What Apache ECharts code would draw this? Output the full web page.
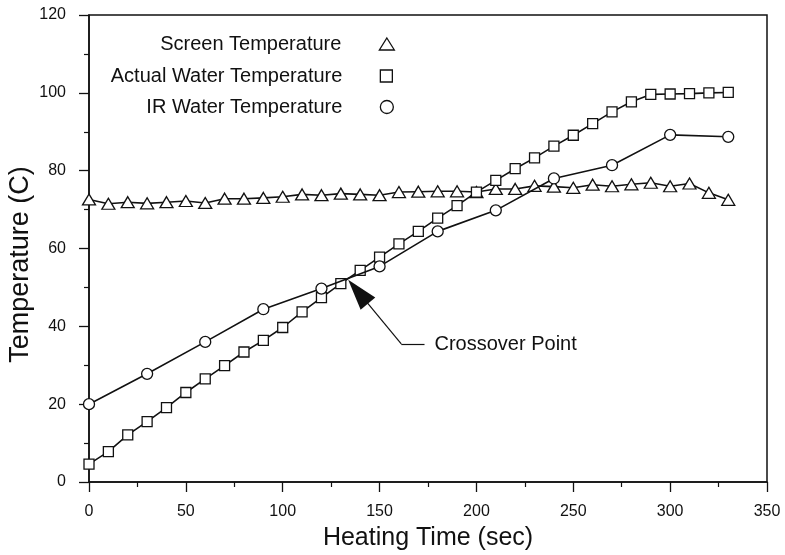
<!DOCTYPE html>
<html>
<head>
<meta charset="utf-8">
<script src="https://cdn.jsdelivr.net/npm/echarts@6/dist/echarts.min.js"></script>
<style>
  html, body { margin: 0; padding: 0; background: #fff; }
  #chart { width: 785px; height: 555px; }
</style>
</head>
<body>
<div id="chart"></div>
<script>
// Heating time (sec) sample points
const timeFine = [0, 10, 20, 30, 40, 50, 60, 70, 80, 90, 100, 110, 120, 130, 140, 150, 160,
  170, 180, 190, 200, 210, 220, 230, 240, 250, 260, 270, 280, 290, 300, 310, 320, 330];
const timeCoarse = [0, 30, 60, 90, 120, 150, 180, 210, 240, 270, 300, 330];

// Temperatures (C)
const screenTemp = [72.6, 71.5, 71.9, 71.6, 71.9, 72.2, 71.7, 72.8, 72.8, 73.0, 73.3, 73.9, 73.7,
  74.1, 73.9, 73.7, 74.5, 74.6, 74.7, 74.7, 74.5, 75.3, 75.3, 76.1, 75.9, 75.6, 76.4, 76.0,
  76.5, 76.9, 76.0, 76.7, 74.3, 72.5];
const actualWaterTemp = [4.6, 7.8, 12.1, 15.5, 19.1, 23.0, 26.5, 29.9, 33.4, 36.4, 39.7, 43.7,
  47.4, 51.0, 54.4, 57.8, 61.2, 64.4, 67.8, 71.0, 74.5, 77.5, 80.5, 83.3, 86.3, 89.1, 92.1,
  95.1, 97.7, 99.6, 99.7, 99.8, 100.0, 100.1];
const irWaterTemp = [20.0, 27.8, 36.0, 44.4, 49.7, 55.4, 64.4, 69.8, 78.0, 81.4, 89.2, 88.7];

// Axis ranges and tick steps
const xRange = [0, 350];
const xStep = 50;
const yRange = [0, 120];
const yStep = 20;

// Series names
const names = ['Screen Temperature', 'Actual Water Temperature', 'IR Water Temperature'];

// Crossover callout: arrowhead centre, elbow, leader end (data units)
const calloutArrow = [138.9, 48.9];
const calloutElbow = [161.2, 35.5];
const calloutEnd = [173.2, 35.4];
const calloutText = 'Crossover Point';

const pair = (xs, ys) => xs.map((x, i) => [x, ys[i]]);

const FONT = "'Liberation Sans', Arial, Helvetica, sans-serif";
const INK = '#111';

const markerStyle = { color: '#fff', borderColor: INK, borderWidth: 1.3 };
const lineStyle = { color: INK, width: 1.6 };

function axisCommon() {
  return {
    type: 'value',
    nameMoveOverlap: false,
    axisLine: { show: true, onZero: false, lineStyle: { color: INK, width: 1.5 } },
    axisTick: { show: true, inside: false, length: 10, lineStyle: { color: INK, width: 1.3 } },
    minorTick: { show: true, splitNumber: 2, length: 5, lineStyle: { color: INK, width: 1.2 } },
    splitLine: { show: false },
    axisLabel: { color: INK, fontFamily: FONT, fontSize: 16 },
    nameTextStyle: { color: INK, fontFamily: FONT, fontSize: 25 }
  };
}

const xAxis = Object.assign(axisCommon(), {
  min: xRange[0], max: xRange[1], interval: xStep,
  name: 'Heating Time (sec)', nameLocation: 'middle', nameGap: 44
});
xAxis.axisLabel = Object.assign({}, xAxis.axisLabel, { margin: 22 });

const yAxis = Object.assign(axisCommon(), {
  min: yRange[0], max: yRange[1], interval: yStep,
  name: 'Temperature (C)', nameLocation: 'middle', nameGap: 55
});
yAxis.axisLabel = Object.assign({}, yAxis.axisLabel, { margin: 23 });
yAxis.nameTextStyle = Object.assign({}, yAxis.nameTextStyle, { fontSize: 27, padding: [0, 32, 0, 0] });

// One legend per row so every row is right-aligned on the marker column
const legendIcons = [
  { name: names[0], icon: 'triangle', w: 15, h: 12, top: 38 },
  { name: names[1], icon: 'rect', w: 12, h: 12, top: 70 },
  { name: names[2], icon: 'circle', w: 13, h: 13, top: 101 }
];
const legends = legendIcons.map(l => ({
  data: [{ name: l.name, icon: l.icon }],
  orient: 'vertical',
  align: 'right',
  right: Math.round(785 - (387.5 + l.w / 2)),
  top: l.top - 4,
  padding: 0,
  itemWidth: l.w,
  itemHeight: l.h,
  selectedMode: false,
  itemStyle: { color: '#fff', borderColor: INK, borderWidth: 1.3 },
  textStyle: { color: INK, fontFamily: FONT, fontSize: 20, padding: [0, 33, 0, 0] }
}));

const chart = echarts.init(document.getElementById('chart'), null, { renderer: 'canvas' });

chart.setOption({
  backgroundColor: '#fff',
  animation: false,
  grid: {
    left: 89, right: 18, top: 15, bottom: 73,
    outerBoundsMode: 'none', containLabel: false,
    show: true, borderColor: INK, borderWidth: 1.5
  },
  xAxis: xAxis,
  yAxis: yAxis,
  legend: legends,
  series: [
    {
      name: names[0], type: 'line', data: pair(timeFine, screenTemp),
      symbol: 'triangle', symbolSize: [13, 11], showAllSymbol: true,
      itemStyle: markerStyle, lineStyle: lineStyle, z: 3
    },
    {
      name: names[1], type: 'line', data: pair(timeFine, actualWaterTemp),
      symbol: 'rect', symbolSize: 10, showAllSymbol: true,
      itemStyle: markerStyle, lineStyle: lineStyle, z: 4
    },
    {
      name: names[2], type: 'line', data: pair(timeCoarse, irWaterTemp),
      symbol: 'circle', symbolSize: 11, showAllSymbol: true,
      itemStyle: markerStyle, lineStyle: lineStyle, z: 5,
      markLine: {
        silent: true,
        animation: false,
        lineStyle: { color: INK, width: 1.2, type: 'solid' },
        data: [
          [
            { coord: calloutArrow, symbol: 'triangle', symbolSize: [19, 31] },
            { coord: calloutElbow, symbol: 'none' }
          ],
          [
            { coord: calloutElbow, symbol: 'none' },
            {
              coord: calloutEnd, symbol: 'none',
              label: {
                show: true, position: 'end', distance: 10, formatter: calloutText,
                color: INK, fontFamily: FONT, fontSize: 20
              }
            }
          ]
        ],
        itemStyle: { color: INK },
        label: { show: false }
      }
    }
  ]
});
</script>
</body>
</html>
